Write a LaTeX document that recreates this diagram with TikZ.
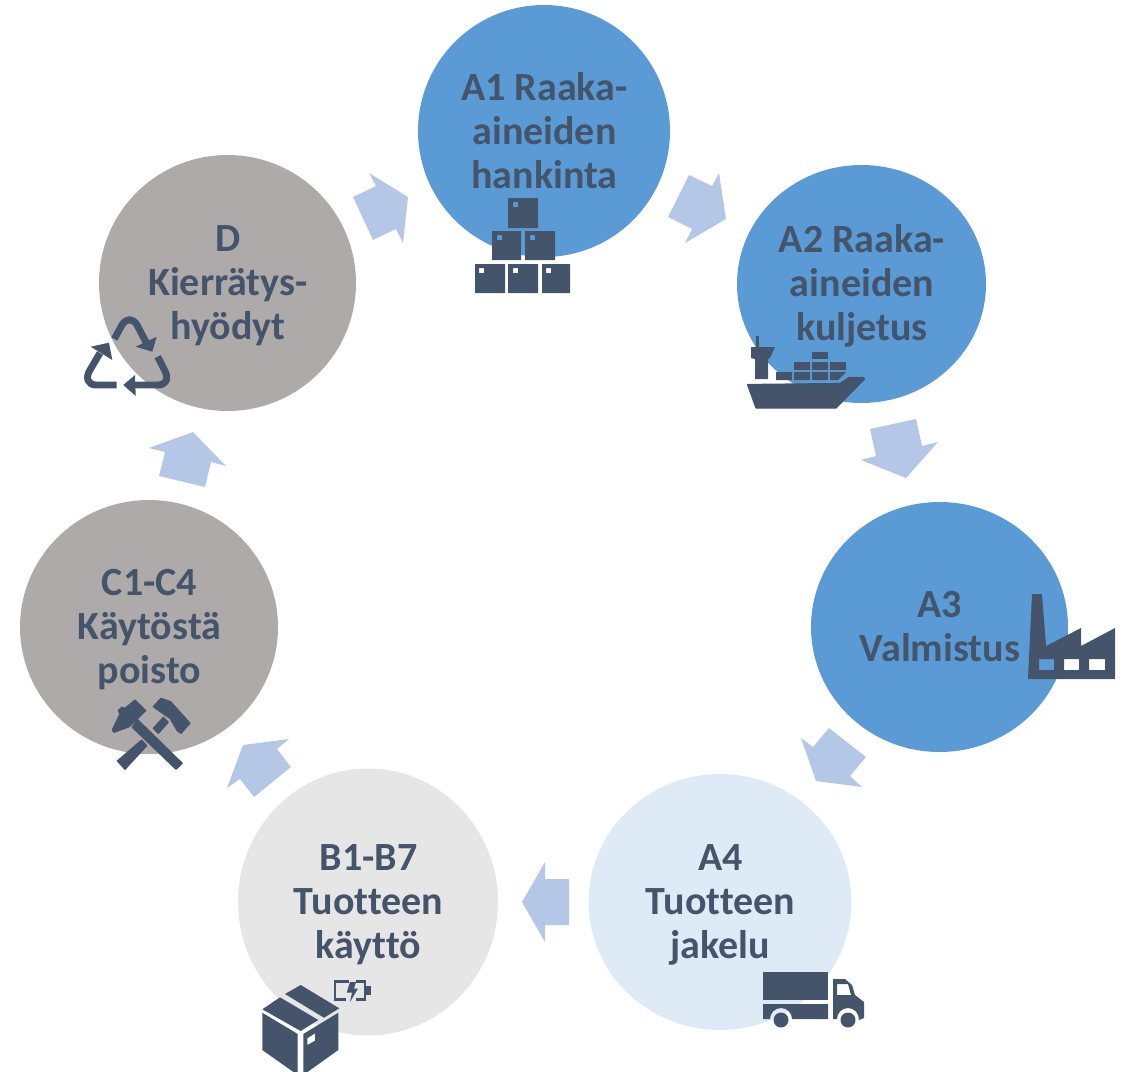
\documentclass[tikz,border=0pt]{standalone}
\usepackage{fontspec}
\setmainfont[Ligatures=NoCommon]{Carlito}
\usetikzlibrary{shapes.geometric}
\definecolor{ink}{HTML}{44546A}
\definecolor{blueA}{HTML}{5B9BD5}
\definecolor{greyC}{HTML}{AEAAAA}
\definecolor{paleA}{HTML}{DEEBF7}
\definecolor{paleB}{HTML}{E7E6E6}
\definecolor{flow}{HTML}{B4C7E7}
\tikzset{
  stage/.style={ellipse,inner sep=0pt,draw=none},
  lab/.style={text=ink,font=\fontsize{30pt}{33pt}\selectfont\bfseries,align=center,inner sep=0pt},
  flowarrow/.style={fill=flow,draw=none},
  icon/.style={fill=ink,draw=none,even odd rule},
  roundicon/.style={fill=ink,draw=ink,line width=.9pt,line join=round},
  rstroke/.style={draw=ink,line width=5.2pt,line cap=butt,line join=round},
  bstroke/.style={draw=ink,line width=1.6pt,line join=miter}
}
\begin{document}
\begin{tikzpicture}[x=.75pt,y=-.75pt]
\useasboundingbox (0,0) rectangle (1127,1071);
\clip (0,0) rectangle (1127,1071);
% stages
\node[stage,fill=blueA,minimum width=189pt,minimum height=189pt] (a1) at (544,131) {};
\node[stage,fill=blueA,minimum width=186.75pt,minimum height=178.5pt] (a2) at (861.5,284) {};
\node[stage,fill=blueA,minimum width=192.75pt,minimum height=187.5pt] (a3) at (939.5,627) {};
\node[stage,fill=paleA,minimum width=197.25pt,minimum height=192pt] (a4) at (720,902) {};
\node[stage,fill=paleB,minimum width=195pt,minimum height=200.25pt] (b) at (368,902) {};
\node[stage,fill=greyC,minimum width=193.5pt,minimum height=190.5pt] (c) at (149,627) {};
\node[stage,fill=greyC,minimum width=192.75pt,minimum height=192pt] (d) at (227.5,283) {};
% flow arrows
\fill[flowarrow] (353,197)--(376,186)--(369,173)--(408,197)--(403,243)--(396,229)--(373,240)--cycle;
\fill[flowarrow] (689,175)--(712,186)--(719,173)--(726,219)--(685,243)--(692,229)--(668,217)--cycle;
\fill[flowarrow] (870,429)--(916,419)--(922,446)--(938,442)--(906,478)--(861,460)--(876,456)--cycle;
\fill[flowarrow] (829,728)--(866,757)--(850,776)--(862,787)--(816,781)--(801,738)--(813,747)--cycle;
\fill[flowarrow] (522,902)--(545,862)--(545,879)--(569,879)--(569,925)--(545,925)--(545,942)--cycle;
\fill[flowarrow] (243,745)--(289,739)--(277,749)--(291,767)--(254,797)--(240,779)--(227,788)--cycle;
\fill[flowarrow] (193,432)--(226,466)--(211,462)--(205,487)--(159,476)--(165,452)--(149,448)--cycle;
% labels
\node[lab] (a1t) at (544.5,131) {A1 Raaka-\\aineiden\\hankinta};
\node[lab] (a2t) at (862,285.5) {A2 Raaka-\\aineiden\\kuljetus};
\node[lab] (a3t) at (940,627) {A3\\Valmistus};
\node[lab] (a4t) at (720.5,905) {A4\\Tuotteen\\jakelu};
\node[lab] (bt) at (368.5,905) {B1-B7\\Tuotteen\\käyttö};
\node[lab] (ct) at (149.5,630) {C1-C4\\Käytöstä\\poisto};
\node[lab] (dt) at (228,286) {D\\Kierrätys-\\hyödyt};
% crates
\fill[icon] (508,198) rectangle (538,228) (513,202) rectangle (518,207);
\fill[icon] (492,231) rectangle (521,260) (497,235) rectangle (502,240);
\fill[icon] (525,231) rectangle (555,260) (530,235) rectangle (535,240);
\fill[icon] (475,264) rectangle (505,293) (479,268) rectangle (484,273);
\fill[icon] (508,264) rectangle (538,293) (513,268) rectangle (518,273);
\fill[icon] (542,264) rectangle (570,293) (546,268) rectangle (551,273);
% ship
\fill[roundicon] (747.5,384.5)--(840,383.5)--(849,377.5)--(863,377.5)--(864.5,379)--(836,408)--(756,408)--cycle;
\fill[icon] (756,336) rectangle (759,347);
\fill[icon] (751,347)--(775,347)--(770,358)--(768,359)--(768,379)--(755,379)--(755,359)--(751,358)--cycle;
\fill[icon] (812,352) rectangle (828,359);
\fill[icon] (794,362) rectangle (810,370) (812,362) rectangle (828,370) (830,362) rectangle (846,370);
\fill[icon] (776,372) rectangle (792,380) (794,372) rectangle (810,380) (812,372) rectangle (828,380);
\fill[icon] (830,372)--(846,372)--(838,380)--(830,380)--cycle;
% factory
\fill[icon] (1032,594)--(1042,594)--(1046,646)--(1081,628)--(1081,646)--(1115,628)--(1115,679)--(1028,679)--cycle
  (1039,659) rectangle (1054,670) (1064,659) rectangle (1079,670) (1089,659) rectangle (1105,670);
% truck
\fill[icon] (763,972) rectangle (828,1000);
\fill[icon] (763,1004)--(828,1004)--(828,1019)--(792,1019)
  .. controls (792,1012.9) and (787.1,1008) .. (781,1008)
  .. controls (774.9,1008) and (770,1012.9) .. (770,1019)--(763,1019)--cycle;
\fill[icon] (833,979)--(845,979)--(852,985)--(855,995)--(864,1002)--(864,1018)--(859,1020)
  .. controls (859,1012.9) and (854.1,1008) .. (848,1008)
  .. controls (841.9,1008) and (837,1012.9) .. (837,1019)--(833,1019)--cycle
  (837,984)--(848,984)--(851,995)--(837,995)--cycle;
\fill[icon] (781,1020) circle[radius=7.5];
\fill[icon] (848,1020) circle[radius=7.5];
% parcel and battery
\fill[icon] (300.7,985)--(339.3,1008.3)--(324,1017.7)--(285,994)--cycle;
\fill[icon] (280,997.3)--(318.3,1020)--(300.7,1031)--(262.3,1009.3)--cycle;
\fill[icon] (262.3,1012.7)--(297.7,1034)--(297.7,1075)--(262.3,1050)--cycle;
\fill[icon] (303.3,1034)--(338.3,1012.7)--(338.3,1050)--(303.3,1075)--cycle
  (307.3,1038.3)--(315,1033.3)--(315,1040.7)--(307.3,1045)--cycle;
\draw[bstroke] (349,981.5)--(335,981.5)--(335,999.5)--(346,999.5);
\draw[bstroke] (356,981.5)--(365,981.5)--(365,999.5)--(356,999.5);
\fill[icon] (366,986) rectangle (371,995);
\fill[icon] (350,982)--(356,982)--(354,988.5)--(358,988.5)--(350,1002)--(352,992.7)--(346.7,992.7)--cycle;
% hammers
\fill[roundicon] (137.3,719.3)--(182.3,763.3)--(176,769.3)--(132.3,727.3)--cycle;
\fill[roundicon] (135,700)--(145.7,710.7)--(129.3,726.7)--(114,732.3)--(112.3,730)--(120,714)--(118.3,710.7)--(121.7,707.3)--(125,708.3)--cycle;
\fill[roundicon] (161,698.3)--(170.7,701.7)--(190,723.3)--(181,733.3)--(177.3,730.7)--(170,718.3)--(165,715)--(153.3,706.7)--cycle;
\fill[roundicon] (163.3,717.3)--(168.3,722.3)--(158.3,733.3)--(153.3,728.3)--cycle;
\fill[roundicon] (141.7,740)--(146.7,745.7)--(125,769.3)--(117.3,761)--cycle;
% recycling
\draw[rstroke] (114.3,339)--(122,325) .. controls (126,318) and (133,318) .. (137,325)--(146,342);
\fill[icon] (156.7,336.7)--(152.3,351.7)--(135.7,346.7)--cycle;
\draw[rstroke] (157.7,356.7)--(165,371) .. controls (169,379) and (166,385) .. (158,385)--(135,385);
\fill[icon] (135,375)--(123.3,385)--(135.7,396)--cycle;
\draw[rstroke] (116.7,385)--(96,385) .. controls (88,385) and (85,378) .. (90,370)--(100,353);
\fill[icon] (90.7,346.7)--(109,342.7)--(112.3,360)--cycle;
\end{tikzpicture}
\end{document}
